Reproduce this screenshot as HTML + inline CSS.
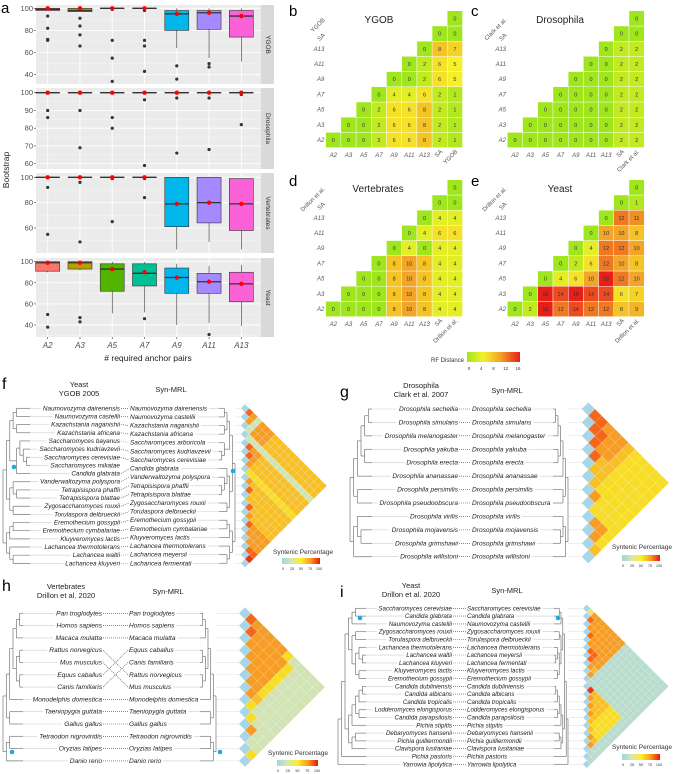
<!DOCTYPE html>
<html><head><meta charset="utf-8">
<style>
html,body{margin:0;padding:0;background:#fff;}
svg{display:block;font-family:"Liberation Sans",sans-serif;}
</style></head>
<body>
<svg id="fig" width="675" height="774" viewBox="0 0 675 774" xmlns="http://www.w3.org/2000/svg">
<defs>
<linearGradient id="rfGrad" x1="0" x2="1" y1="0" y2="0">
<stop offset="0" stop-color="#a0e61e"/><stop offset="0.31" stop-color="#f5f028"/><stop offset="0.62" stop-color="#f2a528"/><stop offset="1" stop-color="#e81e19"/>
</linearGradient>
<linearGradient id="synGrad" x1="0" x2="1" y1="0" y2="0">
<stop offset="0" stop-color="#9fd4e4"/><stop offset="0.25" stop-color="#d8e6b0"/><stop offset="0.5" stop-color="#f8f028"/><stop offset="0.75" stop-color="#f7a01a"/><stop offset="1" stop-color="#ee1111"/>
</linearGradient>
</defs>
<g id="root"></g>
</svg>
<script>
// ---------- Panel a data ----------
const cats = ['A2','A3','A5','A7','A9','A11','A13'];
const boxColors = ['#f8766d','#b79f00','#53b400','#00c094','#00b6eb','#a58aff','#fb61d7'];
// [lo, q1, median, q3, hi, mean]
const ygobBoxes = [[98,98,99,100,100,100],[97,97,98,100,100,100],[100,100,100,100,100,100],[100,100,100,100,100,100],[64,80,95,98,100,95],[55,81,96,98,100,96],[52,74,93,98,100,93]];
const ygobOutliers = [[93,82,72,71],[91,84,76,66],[99,71,55,34],[98,71,66,43],[48,36],[50,47],[]];
const drosBoxes = [[100,100,100,100,100,100],[100,100,100,100,100,100],[100,100,100,100,100,100],[100,100,100,100,100,100],[100,100,100,100,100,100],[100,100,100,100,100,100],[100,100,100,100,100,100]];
const drosOutliers = [[90,86],[90,69],[86,80],[96,59],[97,66],[97,68],[99,82]];
const vertBoxes = [[100,100,100,100,100,100],[100,100,100,100,100,100],[100,100,100,100,100,100],[100,100,100,100,100,100],[43,61,79,100,100,79],[49,64,80,100,100,80],[43,58,79,99,99,79]];
const vertOutliers = [[92,55],[96,49],[99,65],[99,84],[],[],[]];
const yeastBoxes = [[90,91,99,100,100,99],[92,93,99,100,100,99],[51,72,93,98,100,93],[52,77,89,98,100,90],[40,70,85,94,98,85],[42,70,81,89,96,81],[39,62,79,90,97,79]];
const yeastOutliers = [[50,38],[47,43],[],[46],[],[31],[]];
const ygobTicks = [40,60,80,100];
const drosTicks = [60,70,80,90,100];
const vertTicks = [60,80,100];
const yeastTicks = [40,60,80,100];

// ---------- RF distance heatmaps ----------
const rfLabels = ['A2','A3','A5','A7','A9','A11','A13','SA'];
const rfYGOB = [[0,0,0,2,6,6,8,2,1],[0,0,2,6,6,8,2,1],[0,2,6,6,8,2,1],[0,4,4,6,2,1],[0,0,2,6,5],[0,2,6,5],[0,8,7],[0,0],[0]];
const rfDros = [[0,0,0,0,0,0,0,2,2],[0,0,0,0,0,0,2,2],[0,0,0,0,0,2,2],[0,0,0,0,2,2],[0,0,0,2,2],[0,0,2,2],[0,2,2],[0,0],[0]];
const rfVert = [[0,0,0,0,8,10,8,4,4],[0,0,0,8,10,8,4,4],[0,0,8,10,8,4,4],[0,8,10,8,4,4],[0,4,0,4,4],[0,4,6,6],[0,4,4],[0,0],[0]];
const rfYeast = [[0,2,16,12,14,12,12,8,9],[0,16,14,16,14,14,6,7],[0,4,6,10,16,12,10],[0,2,6,12,10,8],[0,4,12,12,10],[0,10,10,8],[0,12,11],[0,1],[0]];
const rfLegendTicks = [0,4,8,12,16];

// ---------- Tanglegram data ----------
const fLeft = ['Naumovozyma dairenensis','Naumovozyma castellii','Kazachstania naganishii','Kazachstania africana','Saccharomyces bayanus','Saccharomyces kudriavzevii','Saccharomyces cerevisiae','Saccharomyces mikatae','Candida glabrata','Vanderwaltozyma polyspora','Tetrapisispora phaffii','Tetrapisispora blattae','Zygosaccharomyces rouxii','Torulaspora delbrueckii','Eremothecium gossypii','Eremothecium cymbalariae','Kluyveromyces lactis','Lachancea thermotolerans','Lachancea waltii','Lachancea kluyveri'];
const fRight = ['Naumovozyma dairenensis','Naumovozyma castellii','Kazachstania naganishii','Kazachstania africana','Saccharomyces arboricola','Saccharomyces kudriavzevii','Saccharomyces cerevisiae','Candida glabrata','Vanderwaltozyma polyspora','Tetrapisispora phaffii','Tetrapisispora blattae','Zygosaccharomyces rouxii','Torulaspora delbrueckii','Eremothecium gossypii','Eremothecium cymbalariae','Kluyveromyces lactis','Lachancea thermotolerans','Lachancea meyersii','Lachancea fermentati'];
const fLinks = [[0,0],[1,1],[2,2],[3,3],[4,4],[5,5],[6,6],[8,7],[9,8],[10,9],[11,10],[12,11],[13,12],[14,13],[15,14],[16,15],[17,16],[18,17],[19,18]];
const fPink = [4,18,19];
const fTreeL = [[[[[0,1],[2,3]],[[[4,[5,[6,7]]],8]]],[[9,[10,11]],[12,13]]],[[[14,15],16],[17,[18,19]]]];
const fTreeR = [[[[[0,1],[2,3]],[[4,[5,6]]]],[[7,[8,[9,10]]],[11,12]]],[[[13,14],15],[16,[17,18]]]];
const fSyn = ['872777666666666666','72777666666666666','2777666666666666','222222222222222','87766666666666','8766666666666','766666666666','55555555555','7666666666','866666666','66666666','8666666','766666','87777','7777','777','88','9'];

const gNames = ['Drosophila sechellia','Drosophila simulans','Drosophila melanogaster','Drosophila yakuba','Drosophila erecta','Drosophila ananassae','Drosophila persimilis','Drosophila pseudoobscura','Drosophila virilis','Drosophila mojavensis','Drosophila grimshawi','Drosophila willistoni'];
const gTreeL = [[[[[[0,1],2],[3,4]],5],[6,7]],[[8,[9,10]],11]];
const gTreeR = [[[[[[0,1],2],[3,4]],5],[6,7]],[[8,[9,10]],11]];
const gSyn = ['88777655555','8877655555','877655555','86655555','6655555','655555','75555','5555','775','75','6'];

const hLeft = ['Pan troglodytes','Homos sapiens','Macaca mulatta','Rattus norvegicus','Mus musculus','Equus caballus','Canis familiaris','Monodelphis domestica','Taeniopygia guttata','Gallus gallus','Tetraodon nigroviridis','Oryzias latipes','Danio rerio'];
const hRight = ['Pan troglodytes','Homos sapiens','Macaca mulatta','Equus caballus','Canis familiaris','Rattus norvegicus','Mus musculus','Monodelphis domestica','Taeniopygia guttata','Gallus gallus','Tetraodon nigroviridis','Oryzias latipes','Danio rerio'];
const hLinks = [[0,0],[1,1],[2,2],[3,5],[4,6],[5,3],[6,4],[7,7],[8,8],[9,9],[10,10],[11,11],[12,12]];
const hTreeL = [[[[[[0,1],2],[[3,4],[5,6]]],7],[8,9]],[[10,11],12]];
const hTreeR = [[[[[[0,1],2],[[3,4],[5,6]]],7],[8,9]],[[10,11],12]];
const hSyn = ['877777522222','87777752222','7777752222','777752222','77752222','7752222','762222','52222','5222','722','22','5'];

const iLeft = ['Saccharomyces cerevisiae','Candida glabrata','Naumovozyma castellii','Zygosaccharomyces rouxii','Torulaspora delbrueckii','Lachancea thermotolerans','Lachancea waltii','Lachancea kluyveri','Kluyveromyces lactis','Eremothecium gossypii','Candida dubliniensis','Candida albicans','Candida tropicalis','Lodderomyces elongisporus','Candida parapsilosis','Pichia stipitis','Debaryomyces hansenii','Pichia guilliermondii','Clavispora lusitaniae','Pichia pastoris','Yarrowia lipolytica'];
const iRight = ['Saccharomyces cerevisiae','Candida glabrata','Naumovozyma castellii','Zygosaccharomyces rouxii','Torulaspora delbrueckii','Lachancea thermotolerans','Lachancea meyersii','Lachancea fermentati','Kluyveromyces lactis','Eremothecium gossypii','Candida dubliniensis','Candida albicans','Candida tropicalis','Lodderomyces elongisporus','Candida parapsilosis','Pichia stipitis','Debaryomyces hansenii','Pichia guilliermondii','Clavispora lusitaniae','Pichia pastoris','Yarrowia lipolytica'];
const iPink = [6,7];
const iTreeL = [[[[[[0,1],2],[[3,4],[[5,[6,7]],[8,9]]]],[[[[[10,11],12],[13,14]],15],[[16,17],18]]],19],20];
const iTreeR = [[[[[[0,1],2],[[3,4],[[5,[6,7]],[8,9]]]],[[[[[10,11],12],[13,14]],15],[[16,17],18]]],19],20];
const iSyn = ['37777777711111111111','8777777711111111111','777777711111111111','87777711111111111','7777711111111111','887711111111111','87711111111111','7611111111111','711111111111','11111111111','9666655511','766655511','76655511','7655511','655511','65511','7611','711','11','1'];
const synLegendTicks = [0,25,50,75,100];

// ---------- helpers ----------
const NS='http://www.w3.org/2000/svg';
const root=document.getElementById('root');
function mk(tag, attrs, parent, text){
  const e=document.createElementNS(NS,tag);
  for(const k in attrs) e.setAttribute(k,attrs[k]);
  if(text!==undefined) e.textContent=text;
  (parent||root).appendChild(e);
  return e;
}
function lerpColor(stops, v){
  for(let i=0;i<stops.length-1;i++){
    const a=stops[i], b=stops[i+1];
    if(v<=b[0]){const t=(v-a[0])/(b[0]-a[0]);
      return 'rgb('+[1,2,3].map(k=>Math.round(a[k]+(b[k]-a[k])*t)).join(',')+')';}
  }
  const l=stops[stops.length-1]; return 'rgb('+l[1]+','+l[2]+','+l[3]+')';
}
const rfStops=[[0,160,230,30],[5,245,240,40],[10,242,165,40],[16,232,30,25]];
const synStops=[[0,159,212,228],[25,216,230,176],[50,248,236,40],[75,246,170,40],[100,240,50,20]];

// ---------- Panel a ----------
const pa = mk('g',{},root);


const letterA = mk('text',{x:1,y:13,'font-size':15},pa,'a');


const plotL=36, plotR=261;
function xCat(i){return 47.7+i*32.27;}
const facets=[
  {name:'YGOB',top:5,bot:84,y100:8.3,k:1.107,boxes:ygobBoxes,out:ygobOutliers,ticks:ygobTicks},
  {name:'Drosophila',top:88,bot:169,y100:92.7,k:1.775,boxes:drosBoxes,out:drosOutliers,ticks:drosTicks},
  {name:'Vertebrates',top:173,bot:253,y100:177.3,k:1.267,boxes:vertBoxes,out:vertOutliers,ticks:vertTicks},
  {name:'Yeast',top:258,bot:337,y100:261.7,k:1.055,boxes:yeastBoxes,out:yeastOutliers,ticks:yeastTicks}
];
facets.forEach(f=>{
  const g=mk('g',{},pa);
  
  
  const y=v=>f.y100+(100-v)*f.k;
  mk('rect',{x:plotL,y:f.top,width:plotR-plotL,height:f.bot-f.top,fill:'#ebebeb'},g);
  const st=mk('rect',{x:plotR,y:f.top,width:13,height:f.bot-f.top,fill:'#d9d9d9'},g);
  
  
  const sx=plotR+6.5, sy=(f.top+f.bot)/2;
  mk('text',{x:sx,y:sy,'font-size':6.5,fill:'#333','text-anchor':'middle','dominant-baseline':'middle',transform:'rotate(90 '+sx+' '+sy+')'},g,f.name);
  const step=f.ticks[1]-f.ticks[0];
  f.ticks.forEach((t,ti)=>{
    const yy=y(t);
    if(ti<f.ticks.length-1){const ym=y(t+step/2); if(ym>f.top) mk('line',{x1:plotL,x2:plotR,y1:ym,y2:ym,stroke:'#f6f6f6','stroke-width':0.5},g);}
    const ym2=y(t-step/2); if(ti===0 && ym2<f.bot) mk('line',{x1:plotL,x2:plotR,y1:ym2,y2:ym2,stroke:'#f6f6f6','stroke-width':0.5},g);
    mk('line',{x1:plotL,x2:plotR,y1:yy,y2:yy,stroke:'#fff','stroke-width':0.9},g);
    const tl=mk('text',{x:plotL-3,y:yy+2.5,'font-size':7.5,fill:'#4d4d4d','text-anchor':'end'},g,String(t));
    
    
    mk('line',{x1:plotL-2,x2:plotL,y1:yy,y2:yy,stroke:'#333','stroke-width':0.6},g);
  });
  cats.forEach((c,i)=>{
    const cx=xCat(i);
    mk('line',{x1:cx,x2:cx,y1:f.top,y2:f.bot,stroke:'#fff','stroke-width':0.9},g);
  });
  f.boxes.forEach((b,i)=>{
    const cx=xCat(i), w=24;
    const bg=mk('g',{},g);
    
    
    mk('line',{x1:cx,x2:cx,y1:y(b[4]),y2:y(b[0]),stroke:'#333','stroke-width':0.6},bg);
    mk('rect',{x:cx-w/2,y:y(b[3]),width:w,height:Math.max(0.1,y(b[1])-y(b[3])),fill:boxColors[i],stroke:'#333','stroke-width':0.6},bg);
    mk('line',{x1:cx-w/2,x2:cx+w/2,y1:y(b[2]),y2:y(b[2]),stroke:'#333','stroke-width':1.3},bg);
    f.out[i].forEach(o=>{
      const d=mk('circle',{cx:cx,cy:y(o),r:1.6,fill:'#333'},bg);
      
      
    });
    const m=mk('circle',{cx:cx,cy:y(b[5]),r:2.2,fill:'#ff0000'},bg);
    
    
  });
});
cats.forEach((c,i)=>{
  const t=mk('text',{x:xCat(i),y:348,'font-size':8,'font-style':'italic',fill:'#4d4d4d','text-anchor':'middle'},pa,c);
  
  
  mk('line',{x1:xCat(i),x2:xCat(i),y1:337,y2:339,stroke:'#333','stroke-width':0.6},pa);
});
const xt=mk('text',{x:148,y:361,'font-size':8.5,fill:'#222','text-anchor':'middle'},pa,'# required anchor pairs');


const yt=mk('text',{x:9,y:170,'font-size':8.5,fill:'#222','text-anchor':'middle',transform:'rotate(-90 9 170)'},pa,'Bootstrap');



// ---------- RF heatmaps ----------
function rfPanel(letter, lx, ly, title, lastLab, mat, cx0, cy0, tx){
  const g=mk('g',{},root);
  
  
  const L=mk('text',{x:lx,y:ly,'font-size':15},g,letter);
  
  
  const T=mk('text',{x:tx,y:cy0-117,'font-size':10,'text-anchor':'middle',fill:'#222'},g,title);
  
  
  const s=15.2, labs=rfLabels.concat([lastLab]);
  mat.forEach((row,r)=>{
    row.forEach((v,k)=>{
      const c=r+k, x=cx0+c*s, y=cy0-r*s;
      const cell=mk('rect',{x:x-s/2,y:y-s/2,width:s,height:s,fill:lerpColor(rfStops,v),stroke:'#fff','stroke-width':0.4},g);
      
      
      mk('text',{x:x,y:y+2,'font-size':5.5,'text-anchor':'middle',fill:'#333'},g,String(v));
    });
  });
  labs.forEach((lb,i)=>{
    const x=cx0+i*s, yb=cy0+15;
    const it=(i<7)?'italic':'normal';
    if(i<7){
      mk('text',{x:x,y:yb+2,'font-size':6,'font-style':it,'text-anchor':'middle',fill:'#555'},g,lb);
      mk('text',{x:cx0-9,y:cy0-i*s+2,'font-size':6,'font-style':it,'text-anchor':'end',fill:'#555'},g,lb);
    } else {
      mk('text',{x:x+3,y:yb-3,'font-size':6,'text-anchor':'end',fill:'#555',transform:'rotate(-45 '+(x+3)+' '+(yb-3)+')'},g,lb);
      const ry=cy0-i*s+2, rx=cx0-8;
      mk('text',{x:rx,y:ry,'font-size':6,'text-anchor':'end',fill:'#555',transform:'rotate(-45 '+rx+' '+ry+')'},g,lb);
    }
  });
}
rfPanel('b',289,16,'YGOB','YGOB',rfYGOB,333.3,140,379);
rfPanel('c',471,16,'Drosophila','Clark et al.',rfDros,515,140,560);
rfPanel('d',289,186,'Vertebrates','Drillon et al.',rfVert,333.3,309,378);
rfPanel('e',471,186,'Yeast','Drillon et al.',rfYeast,515,309,560);
(function(){
  const g=mk('g',{},root);
  
  
  mk('text',{x:464,y:362,'font-size':6,'text-anchor':'end',fill:'#333'},g,'RF Distance');
  mk('rect',{x:467,y:352,width:53,height:10,fill:'url(#rfGrad)'},g);
  rfLegendTicks.forEach(t=>{
    mk('text',{x:469+t/16*49,y:370,'font-size':4.5,'text-anchor':'middle',fill:'#333'},g,String(t));
  });
})();

// ---------- Tanglegrams ----------
function depthOf(t){return Array.isArray(t)?1+Math.max(...t.map(depthOf)):0;}
function drawTree(tree, ys, xRoot, xTip, g, color){
  const md=depthOf(tree);
  function rec(node, d){
    if(!Array.isArray(node)) return {x:xTip,y:ys[node]};
    const x=xRoot+(xTip-xRoot)*d/md;
    const ch=node.map(n=>rec(n,d+1));
    ch.forEach(c=>mk('line',{x1:x,x2:c.x,y1:c.y,y2:c.y,stroke:color,'stroke-width':0.7},g));
    const ymin=Math.min(...ch.map(c=>c.y)), ymax=Math.max(...ch.map(c=>c.y));
    mk('line',{x1:x,x2:x,y1:ymin,y2:ymax,stroke:color,'stroke-width':0.7},g);
    return {x:x,y:(ymin+ymax)/2};
  }
  return rec(tree,0);
}
function synHeat(rows, n, x0, y0, step, g){
  const h=step/2;
  for(let i=0;i<n;i++){
    const cy=y0+i*step;
    const d=mk('polygon',{points:[[x0-h,cy],[x0,cy-h],[x0+h,cy],[x0,cy+h]].map(p=>p.join(',')).join(' '),fill:'#a8d6e6',stroke:'#fff','stroke-width':0.3},g);
    
    
  }
  rows.forEach((row,i)=>{
    for(let k=0;k<row.length;k++){
      const j=i+1+k, v=parseInt(row[k])/9*100;
      const cx=x0+(j-i)*h, cy=y0+(i+j)/2*step;
      const c=mk('polygon',{points:[[cx-h,cy],[cx,cy-h],[cx+h,cy],[cx,cy+h]].map(p=>p.join(',')).join(' '),fill:lerpColor(synStops,v),stroke:'#fff','stroke-width':0.25,'stroke-opacity':0.6},g);
      
      
    }
  });
}
function synLegend(g, tx, ty, bx, bw, by){
  mk('text',{x:tx,y:ty,'font-size':6.5,fill:'#333'},g,'Syntenic Percentage');
  mk('rect',{x:bx,y:by,width:bw,height:6,fill:'url(#synGrad)'},g);
  synLegendTicks.forEach(t=>mk('text',{x:bx+1+t/100*(bw-2),y:by+12,'font-size':3.8,'text-anchor':'middle',fill:'#333'},g,String(t)));
}
function tangle(o){
  const g=mk('g',{},root);
  
  
  const L=mk('text',{x:o.lx,y:o.ly,'font-size':16},g,o.letter);
  
  
  mk('text',{x:o.t1x,y:o.t1y,'font-size':7.5,'text-anchor':'middle',fill:'#222'},g,o.t1a);
  mk('text',{x:o.t1x,y:o.t1y+9,'font-size':7.5,'text-anchor':'middle',fill:'#222'},g,o.t1b);
  mk('text',{x:o.t2x,y:o.t1y+5,'font-size':7.5,'text-anchor':'middle',fill:'#222'},g,'Syn-MRL');
  const yl=o.left.map((_,i)=>o.y0L+i*o.stepL);
  const yr=o.right.map((_,i)=>o.y0R+i*o.stepR);
  o.left.forEach((nm,i)=>{
    const t=mk('text',{x:o.lEnd,y:yl[i]+2,'font-size':o.fs,'font-style':'italic','text-anchor':'end',fill:'#222'},g,nm);
    
    
    let w=0; try{w=t.getComputedTextLength();}catch(e){w=nm.length*o.fs*0.48;}
    mk('line',{x1:o.lTip,x2:o.lEnd-w-2,y1:yl[i],y2:yl[i],stroke:'#ccc','stroke-width':0.6},g);
  });
  o.right.forEach((nm,i)=>{
    const t=mk('text',{x:o.rStart,y:yr[i]+2,'font-size':o.fs,'font-style':'italic',fill:'#222'},g,nm);
    
    
    let w=0; try{w=t.getComputedTextLength();}catch(e){w=nm.length*o.fs*0.48;}
    if(o.rStart+w+2<o.rTip) mk('line',{x1:o.rStart+w+2,x2:o.rTip,y1:yr[i],y2:yr[i],stroke:'#ccc','stroke-width':0.6},g);
    mk('line',{x1:o.rRoot,x2:o.hx-4,y1:yr[i],y2:yr[i],stroke:'#ddd','stroke-width':0.5},g);
  });
  o.links.forEach(p=>{
    const pink=o.pink.indexOf(p[0])>=0;
    const ln=mk('line',{x1:o.lEnd+1,x2:o.rStart-1,y1:yl[p[0]],y2:yr[p[1]],stroke:pink?'#e86ad8':'#444','stroke-width':0.6,'stroke-dasharray':'1,1'},g);
    
    
  });
  drawTree(o.treeL,yl,o.lRoot,o.lTip,g,'#777');
  drawTree(o.treeR,yr,o.rRoot,o.rTip,g,'#777');
  synHeat(o.syn,o.right.length,o.hx,o.y0R,o.stepR,g);
  (o.dots||[]).forEach(d=>{
    const c=mk('circle',{cx:d[0],cy:d[1],r:2.3,fill:'#1eaadf'},g);
    
    
  });
  synLegend(g,o.leg[0],o.leg[1],o.leg[2],o.leg[3],o.leg[4]);
}
function idLinks(n){const a=[];for(let i=0;i<n;i++)a.push([i,i]);return a;}
tangle({letter:'f',lx:2,ly:389,t1x:79,t1y:387,t1a:'Yeast',t1b:'YGOB 2005',t2x:171,
  left:fLeft,right:fRight,links:fLinks,pink:fPink,y0L:408.3,stepL:8.16,y0R:408.3,stepR:8.61,fs:6.4,
  lEnd:120,rStart:130,lRoot:3,lTip:30,rRoot:235,rTip:219,treeL:fTreeL,treeR:fTreeR,syn:fSyn,hx:245,
  dots:[[14,467],[233,471]],leg:[273,554,282,38,558]});
tangle({letter:'g',lx:340,ly:397,t1x:421,t1y:388,t1a:'Drosophila',t1b:'Clark et al. 2007',t2x:507,
  left:gNames,right:gNames,links:idLinks(12),pink:[],y0L:409,stepL:13.43,y0R:409,stepR:13.43,fs:6.6,
  lEnd:458,rStart:472,lRoot:350,lTip:372,rRoot:568,rTip:553,treeL:gTreeL,treeR:gTreeR,syn:gSyn,hx:588.3,
  dots:[],leg:[612,549,622,38,555]});
tangle({letter:'h',lx:2,ly:591,t1x:66,t1y:589,t1a:'Vertebrates',t1b:'Drillon et al. 2020',t2x:168,
  left:hLeft,right:hRight,links:hLinks,pink:[],y0L:613.3,stepL:12.3,y0R:613.3,stepR:12.3,fs:6.6,
  lEnd:102,rStart:129,lRoot:3,lTip:23,rRoot:216,rTip:200,treeL:hTreeL,treeR:hTreeR,syn:hSyn,hx:245,
  dots:[[12,752],[220,752]],leg:[268,755,277,41,760]});
tangle({letter:'i',lx:340,ly:597,t1x:411,t1y:588,t1a:'Yeast',t1b:'Drillon et al. 2020',t2x:507,
  left:iLeft,right:iRight,links:idLinks(21),pink:iPink,y0L:608.3,stepL:7.8,y0R:608.3,stepR:7.8,fs:6.2,
  lEnd:452,rStart:467,lRoot:338,lTip:366,rRoot:568,rTip:554,treeL:iTreeL,treeR:iTreeR,syn:iSyn,hx:586.7,
  dots:[[360,618],[558,618]],leg:[612,749,622,38,754]});
</script>
</body></html>
